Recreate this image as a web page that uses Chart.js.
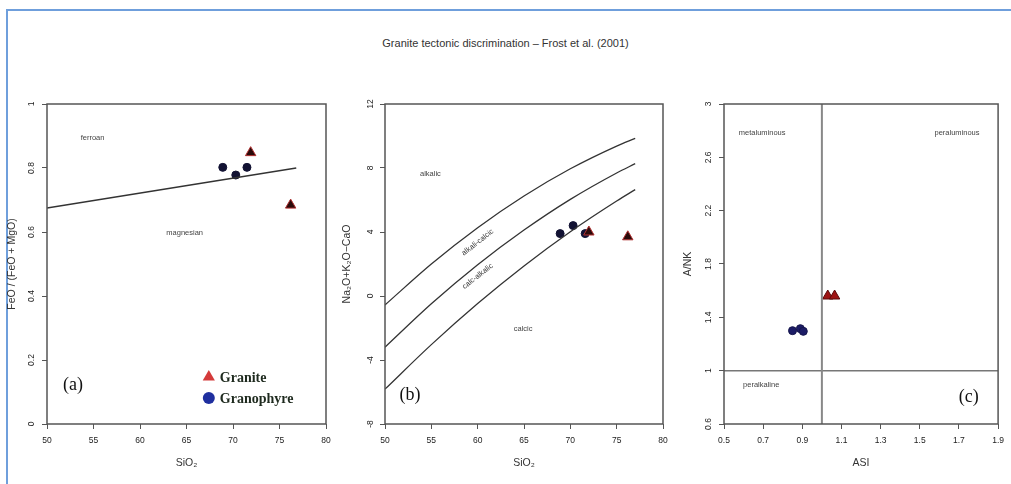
<!DOCTYPE html>
<html>
<head>
<meta charset="utf-8">
<script src="https://cdn.jsdelivr.net/npm/chart.js@4.4.1/dist/chart.umd.min.js"></script>
<style>
    html, body { margin: 0; padding: 0; background: #fff; }
    #wrap { position: relative; width: 1011px; height: 484px; overflow: hidden; }
    #frame { position: absolute; left: 6px; top: 9px; width: 1100px; height: 600px;
             border-left: 2px solid #6f9fdc; border-top: 2px solid #6f9fdc; }
    #title { position: absolute; top: 37px; left: 0; width: 1011px; text-align: center;
             font: 11px "Liberation Sans", Arial, sans-serif; color: #333; }
    .pane { position: absolute; top: 60px; height: 424px; }
</style>
</head>
<body>
<div id="wrap">
    <div id="frame"></div>
    <div id="title">Granite tectonic discrimination – Frost et al. (2001)</div>
    <div class="pane" style="left:6px;width:339px"><canvas id="chart-a"></canvas></div>
    <div class="pane" style="left:341px;width:339px"><canvas id="chart-b"></canvas></div>
    <div class="pane" style="left:682px;width:329px"><canvas id="chart-c"></canvas></div>
</div>
<script>
// --- tick labels ---
const ticksSiO2 = [50, 55, 60, 65, 70, 75, 80];
const ticksFe = [0, 0.2, 0.4, 0.6, 0.8, 1];
const ticksMali = [-8, -4, 0, 4, 8, 12];
const ticksAsi = [0.5, 0.7, 0.9, 1.1, 1.3, 1.5, 1.7, 1.9];
const ticksAnk = [0.6, 1, 1.4, 1.8, 2.2, 2.6, 3];

// --- (a) FeO/(FeO+MgO) vs SiO2 ---
const feLineSiO2 = [50, 76.8];
const feLineVal = [0.675, 0.8];
const graniteA_SiO2 = [71.9, 76.2];
const graniteA_Fe = [0.848, 0.684];
const granoA_SiO2 = [68.9, 70.3, 71.5];
const granoA_Fe = [0.802, 0.778, 0.802];

// --- (b) MALI vs SiO2 ---
const maliSiO2 = [50, 55, 60, 65, 70, 75, 77];
const maliAlkalic = [-0.56, 2.0, 4.27, 6.25, 7.95, 9.37, 9.85];
const maliAlkCalcic = [-3.2, -0.49, 1.95, 4.12, 6.04, 7.69, 8.27];
const maliCalcAlk = [-5.82, -3.04, -0.47, 1.88, 4.02, 5.94, 6.65];
const graniteB_SiO2 = [72.0, 76.2];
const graniteB_Mali = [4.0, 3.7];
const granoB_SiO2 = [68.9, 70.3, 71.6];
const granoB_Mali = [3.9, 4.4, 3.9];

// --- (c) A/NK vs ASI ---
const asiDivX = [1, 1];
const asiDivY = [0.6, 3];
const ankDivX = [0.5, 1.9];
const ankDivY = [1, 1];
const graniteC_Asi = [1.03, 1.065];
const graniteC_Ank = [1.56, 1.56];
const granoC_Asi = [0.85, 0.89, 0.905];
const granoC_Ank = [1.30, 1.315, 1.295];

const pts = (xs, ys) => xs.map((x, i) => ({ x: x, y: ys[i] }));

// box round the plot region, R style
const boxPlugin = {
    id: 'plotBox',
    afterDraw(chart) {
        const { ctx, chartArea: a } = chart;
        ctx.save();
        ctx.strokeStyle = '#555';
        ctx.lineWidth = 1.5;
        ctx.strokeRect(a.left, a.top, a.right - a.left, a.bottom - a.top);
        ctx.restore();
    }
};

// field names written inside the diagrams
const fieldPlugin = {
    id: 'fields',
    afterDatasetsDraw(chart, args, opts) {
        const { ctx, scales } = chart;
        ctx.save();
        (opts.items || []).forEach(it => {
            const px = scales.x.getPixelForValue(it.x);
            const py = scales.y.getPixelForValue(it.y);
            ctx.translate(px, py);
            ctx.rotate((it.rot || 0) * Math.PI / 180);
            ctx.font = it.font || '7.5px "Liberation Sans", Arial';
            ctx.fillStyle = it.color || '#444';
            ctx.textAlign = 'center';
            ctx.textBaseline = 'middle';
            ctx.fillText(it.text, 0, 0);
            ctx.setTransform(1, 0, 0, 1, 0, 0);
        });
        ctx.restore();
    }
};

// symbol legend for panel (a)
const keyPlugin = {
    id: 'symbolKey',
    afterDatasetsDraw(chart, args, opts) {
        if (!opts.items) return;
        const { ctx, scales } = chart;
        ctx.save();
        opts.items.forEach(it => {
            const px = scales.x.getPixelForValue(it.x);
            const py = scales.y.getPixelForValue(it.y);
            ctx.fillStyle = it.color;
            ctx.beginPath();
            if (it.style === 'triangle') {
                ctx.moveTo(px, py - it.r);
                ctx.lineTo(px + it.r * 0.87, py + it.r * 0.5);
                ctx.lineTo(px - it.r * 0.87, py + it.r * 0.5);
            } else {
                ctx.arc(px, py, it.r, 0, Math.PI * 2);
            }
            ctx.closePath();
            ctx.fill();
            ctx.font = 'bold 14px "Liberation Serif", "Times New Roman", serif';
            ctx.fillStyle = '#1e2a1e';
            ctx.textAlign = 'left';
            ctx.textBaseline = 'middle';
            ctx.fillText(it.text, px + 11, py + 1);
        });
        ctx.restore();
    }
};

function axisX(min, max, tickArr, title) {
    return {
        type: 'linear', min: min, max: max,
        afterBuildTicks: s => { s.ticks = tickArr.map(v => ({ value: v })); },
        afterFit: s => { s.height = 52; },
        grid: { drawOnChartArea: false, drawTicks: true, tickLength: 5, color: '#555' },
        border: { display: false },
        ticks: { autoSkip: false, maxRotation: 0, minRotation: 0, padding: 7, color: '#222',
                 font: { size: 8.5, family: '"Liberation Sans", Arial' }, callback: v => String(v) },
        title: { display: true, text: title, color: '#333', padding: { top: 0, bottom: 7 },
                 font: { size: 10.5, family: '"Liberation Sans", Arial' } }
    };
}

function axisY(min, max, tickArr, title, width, pad) {
    return {
        type: 'linear', min: min, max: max,
        afterBuildTicks: s => { s.ticks = tickArr.map(v => ({ value: v })); },
        afterFit: s => { s.width = width; },
        grid: { drawOnChartArea: false, drawTicks: true, tickLength: 5, color: '#555' },
        border: { display: false },
        ticks: { autoSkip: false, minRotation: 90, maxRotation: 90, crossAlign: 'center', padding: pad,
                 color: '#222', font: { size: 8.5, family: '"Liberation Sans", Arial' }, callback: v => String(v) },
        title: { display: true, text: title, color: '#333', padding: { top: 0, bottom: 0 },
                 font: { size: 10.5, family: '"Liberation Sans", Arial' } }
    };
}

function boundary(data, color, width) {
    return {
        type: 'line', data: data, borderColor: color, borderWidth: width,
        pointRadius: 0, fill: false, cubicInterpolationMode: 'monotone'
    };
}

function makeChart(id, datasets, scales, padding, fields, key) {
    return new Chart(document.getElementById(id), {
        type: 'scatter',
        data: { datasets: datasets },
        options: {
            responsive: true,
            maintainAspectRatio: false,
            animation: false,
            layout: { padding: padding },
            scales: scales,
            plugins: {
                legend: { display: false },
                tooltip: { enabled: false },
                fields: { items: fields },
                symbolKey: { items: key }
            }
        },
        plugins: [boxPlugin, fieldPlugin, keyPlugin]
    });
}

// (a)
makeChart('chart-a', [
    boundary(pts(feLineSiO2, feLineVal), '#333', 1.5),
    { label: 'Granite', data: pts(graniteA_SiO2, graniteA_Fe), pointStyle: 'triangle', pointRadius: 6,
      backgroundColor: '#2a0a0a', borderColor: '#b03030', borderWidth: 1 },
    { label: 'Granophyre', data: pts(granoA_SiO2, granoA_Fe), pointStyle: 'circle', pointRadius: 4,
      backgroundColor: '#121233', borderColor: '#121233', borderWidth: 1 }
], {
    x: axisX(50, 80, ticksSiO2, 'SiO₂'),
    y: axisY(0, 1, ticksFe, 'FeO / (FeO + MgO)', 41, 4.5)
}, { left: 0, top: 44, right: 19, bottom: 8 }, [
    { text: 'ferroan', x: 54.9, y: 0.894 },
    { text: 'magnesian', x: 64.8, y: 0.597 },
    { text: '(a)', x: 52.8, y: 0.12, font: '18px "Liberation Serif", "Times New Roman", serif', color: '#111' }
], [
    { text: 'Granite', x: 67.4, y: 0.147, style: 'triangle', r: 7, color: '#d43a3a' },
    { text: 'Granophyre', x: 67.4, y: 0.081, style: 'circle', r: 6, color: '#1f2f9f' }
]);

// (b)
makeChart('chart-b', [
    boundary(pts(maliSiO2, maliAlkalic), '#333', 1.3),
    boundary(pts(maliSiO2, maliAlkCalcic), '#333', 1.3),
    boundary(pts(maliSiO2, maliCalcAlk), '#333', 1.3),
    { label: 'Granite', data: pts(graniteB_SiO2, graniteB_Mali), pointStyle: 'triangle', pointRadius: 6,
      backgroundColor: '#2a0a0a', borderColor: '#b03030', borderWidth: 1 },
    { label: 'Granophyre', data: pts(granoB_SiO2, granoB_Mali), pointStyle: 'circle', pointRadius: 4,
      backgroundColor: '#121233', borderColor: '#121233', borderWidth: 1 }
], {
    x: axisX(50, 80, ticksSiO2, 'SiO₂'),
    y: axisY(-8, 12, ticksMali, 'Na₂O+K₂O−CaO', 44, 5)
}, { left: 0, top: 44, right: 17, bottom: 8 }, [
    { text: 'alkalic', x: 54.9, y: 7.6 },
    { text: 'alkali-calcic', x: 60.0, y: 3.35, rot: -38 },
    { text: 'calc-alkalic', x: 60.0, y: 1.23, rot: -38 },
    { text: 'calcic', x: 64.9, y: -2.08 },
    { text: '(b)', x: 52.7, y: -6.2, font: '18px "Liberation Serif", "Times New Roman", serif', color: '#111' }
]);

// (c)
makeChart('chart-c', [
    boundary(pts(asiDivX, asiDivY), '#888', 2),
    boundary(pts(ankDivX, ankDivY), '#777', 1.5),
    { label: 'Granite', data: pts(graniteC_Asi, graniteC_Ank), pointStyle: 'triangle', pointRadius: 6,
      backgroundColor: '#9e1414', borderColor: '#5a0a0a', borderWidth: 1 },
    { label: 'Granophyre', data: pts(granoC_Asi, granoC_Ank), pointStyle: 'circle', pointRadius: 4,
      backgroundColor: '#1c1c66', borderColor: '#14144a', borderWidth: 1 }
], {
    x: axisX(0.5, 1.9, ticksAsi, 'ASI'),
    y: axisY(0.6, 3, ticksAnk, 'A/NK', 42, 4.5)
}, { left: 0, top: 44, right: 10, bottom: 8 }, [
    { text: 'metaluminous', x: 0.695, y: 2.78 },
    { text: 'peraluminous', x: 1.69, y: 2.78 },
    { text: 'peralkaline', x: 0.69, y: 0.89 },
    { text: '(c)', x: 1.75, y: 0.8, font: '18px "Liberation Serif", "Times New Roman", serif', color: '#111' }
]);
</script>
</body>
</html>
